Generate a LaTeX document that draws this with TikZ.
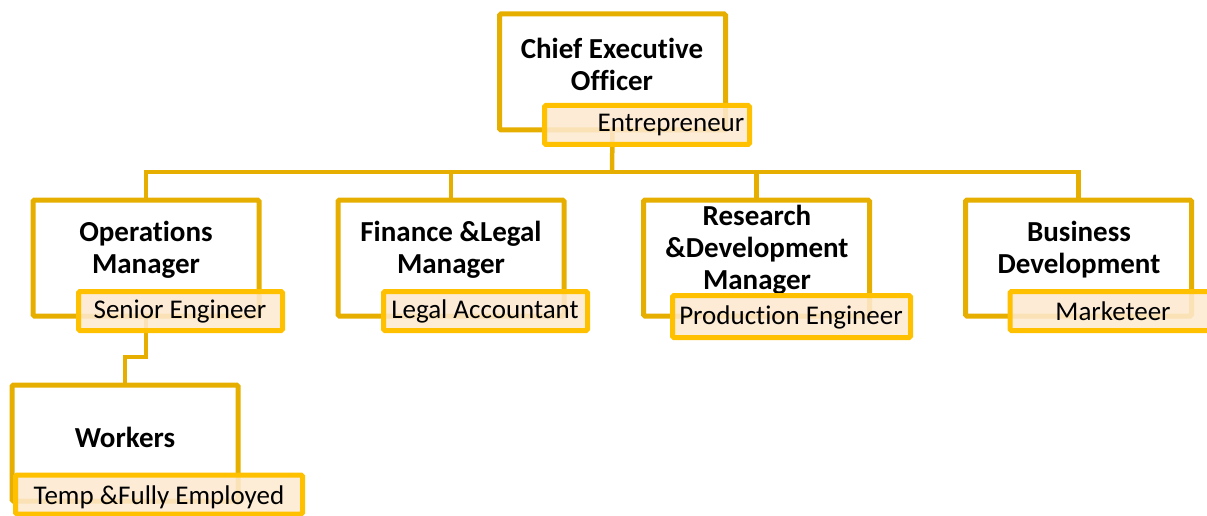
\documentclass[tikz,border=0pt]{standalone}
\usepackage{fontspec}
\setmainfont{Carlito}[Ligatures=NoCommon]
\usetikzlibrary{backgrounds}
\definecolor{mainline}{RGB}{230,175,0}
\definecolor{subline}{RGB}{255,192,0}
\definecolor{subfill}{RGB}{253,233,208}
\tikzset{
  mainbox/.style={draw=mainline, line width=5pt, rounded corners=1.5pt, fill=white, minimum width=#1, minimum height=116pt, inner sep=0pt},
  subbox/.style={draw=subline, line width=5pt, rounded corners=1.5pt, fill=subfill, fill opacity=0.88, draw opacity=1, text opacity=1, minimum width=#1, minimum height=39pt, inner sep=0pt},
  titletext/.style={font=\fontsize{29}{32}\selectfont\bfseries, align=center, inner sep=0pt},
  subtext/.style={font=\fontsize{27}{30}\selectfont, inner sep=0pt},
  conn/.style={draw=mainline, line width=4.5pt}
}
\begin{document}
\begin{tikzpicture}[x=1pt, y=-1pt]
\useasboundingbox (0,0) rectangle (1207,516);
\clip (0,0) rectangle (1207,516);
% main boxes
\node[mainbox=226pt] (ceo) at (612.5,72) {};
\node[mainbox=226pt] (ops) at (146,258) {};
\node[mainbox=226pt] (fin) at (451,258) {};
\node[mainbox=226pt] (rd) at (756.5,258) {};
\node[mainbox=226pt] (biz) at (1078.5,258) {};
\node[mainbox=226pt] (wrk) at (125,443) {};
% titles
\node[titletext] (ceot) at (612,64) {Chief Executive\\Officer};
\node[titletext] (opst) at (146,250) {Operations\\Manager};
\node[titletext] (fint) at (451,250) {Finance \&Legal\\Manager};
\node[titletext] (rdt) at (757,250) {Research\\\&Development\\Manager};
\node[titletext] (bizt) at (1079,250) {Business\\Development};
\node[titletext] (wrkt) at (125,437) {Workers};
% connectors
\coordinate (bus) at (612,172);
\coordinate (kink) at (146,357);
\draw[conn] (ceo.south) -- (bus);
\draw[conn] (ops.north) |- (bus) -| (biz.north);
\draw[conn] (fin.north) -- (fin.north |- bus);
\draw[conn] (rd.north) -- (rd.north |- bus);
\draw[conn] (ops.south) -- (kink) -| (wrk.north);
% sub boxes
\node[subbox=205pt] (ceos) at (647,125) {};
\node[subbox=204pt] (opss) at (180.5,311) {};
\node[subbox=204pt] (fins) at (485.5,311) {};
\node[subbox=238pt, minimum height=42pt] (rds) at (791.5,316.5) {};
\node[subbox=204pt] (bizs) at (1112,311) {};
\node[subbox=287pt] (wrks) at (159,494.5) {};
% sub texts
\node[subtext] (ceost) at (671,125.5) {Entrepreneur};
\node[subtext] (opsst) at (180,311.5) {Senior Engineer};
\node[subtext] (finst) at (485,311.5) {Legal Accountant};
\node[subtext] (rdst) at (791,317.5) {Production Engineer};
\node[subtext] (bizst) at (1113,311.5) {Marketeer};
\node[subtext] (wrkst) at (159,497.5) {Temp \&Fully Employed};
\end{tikzpicture}
\end{document}
